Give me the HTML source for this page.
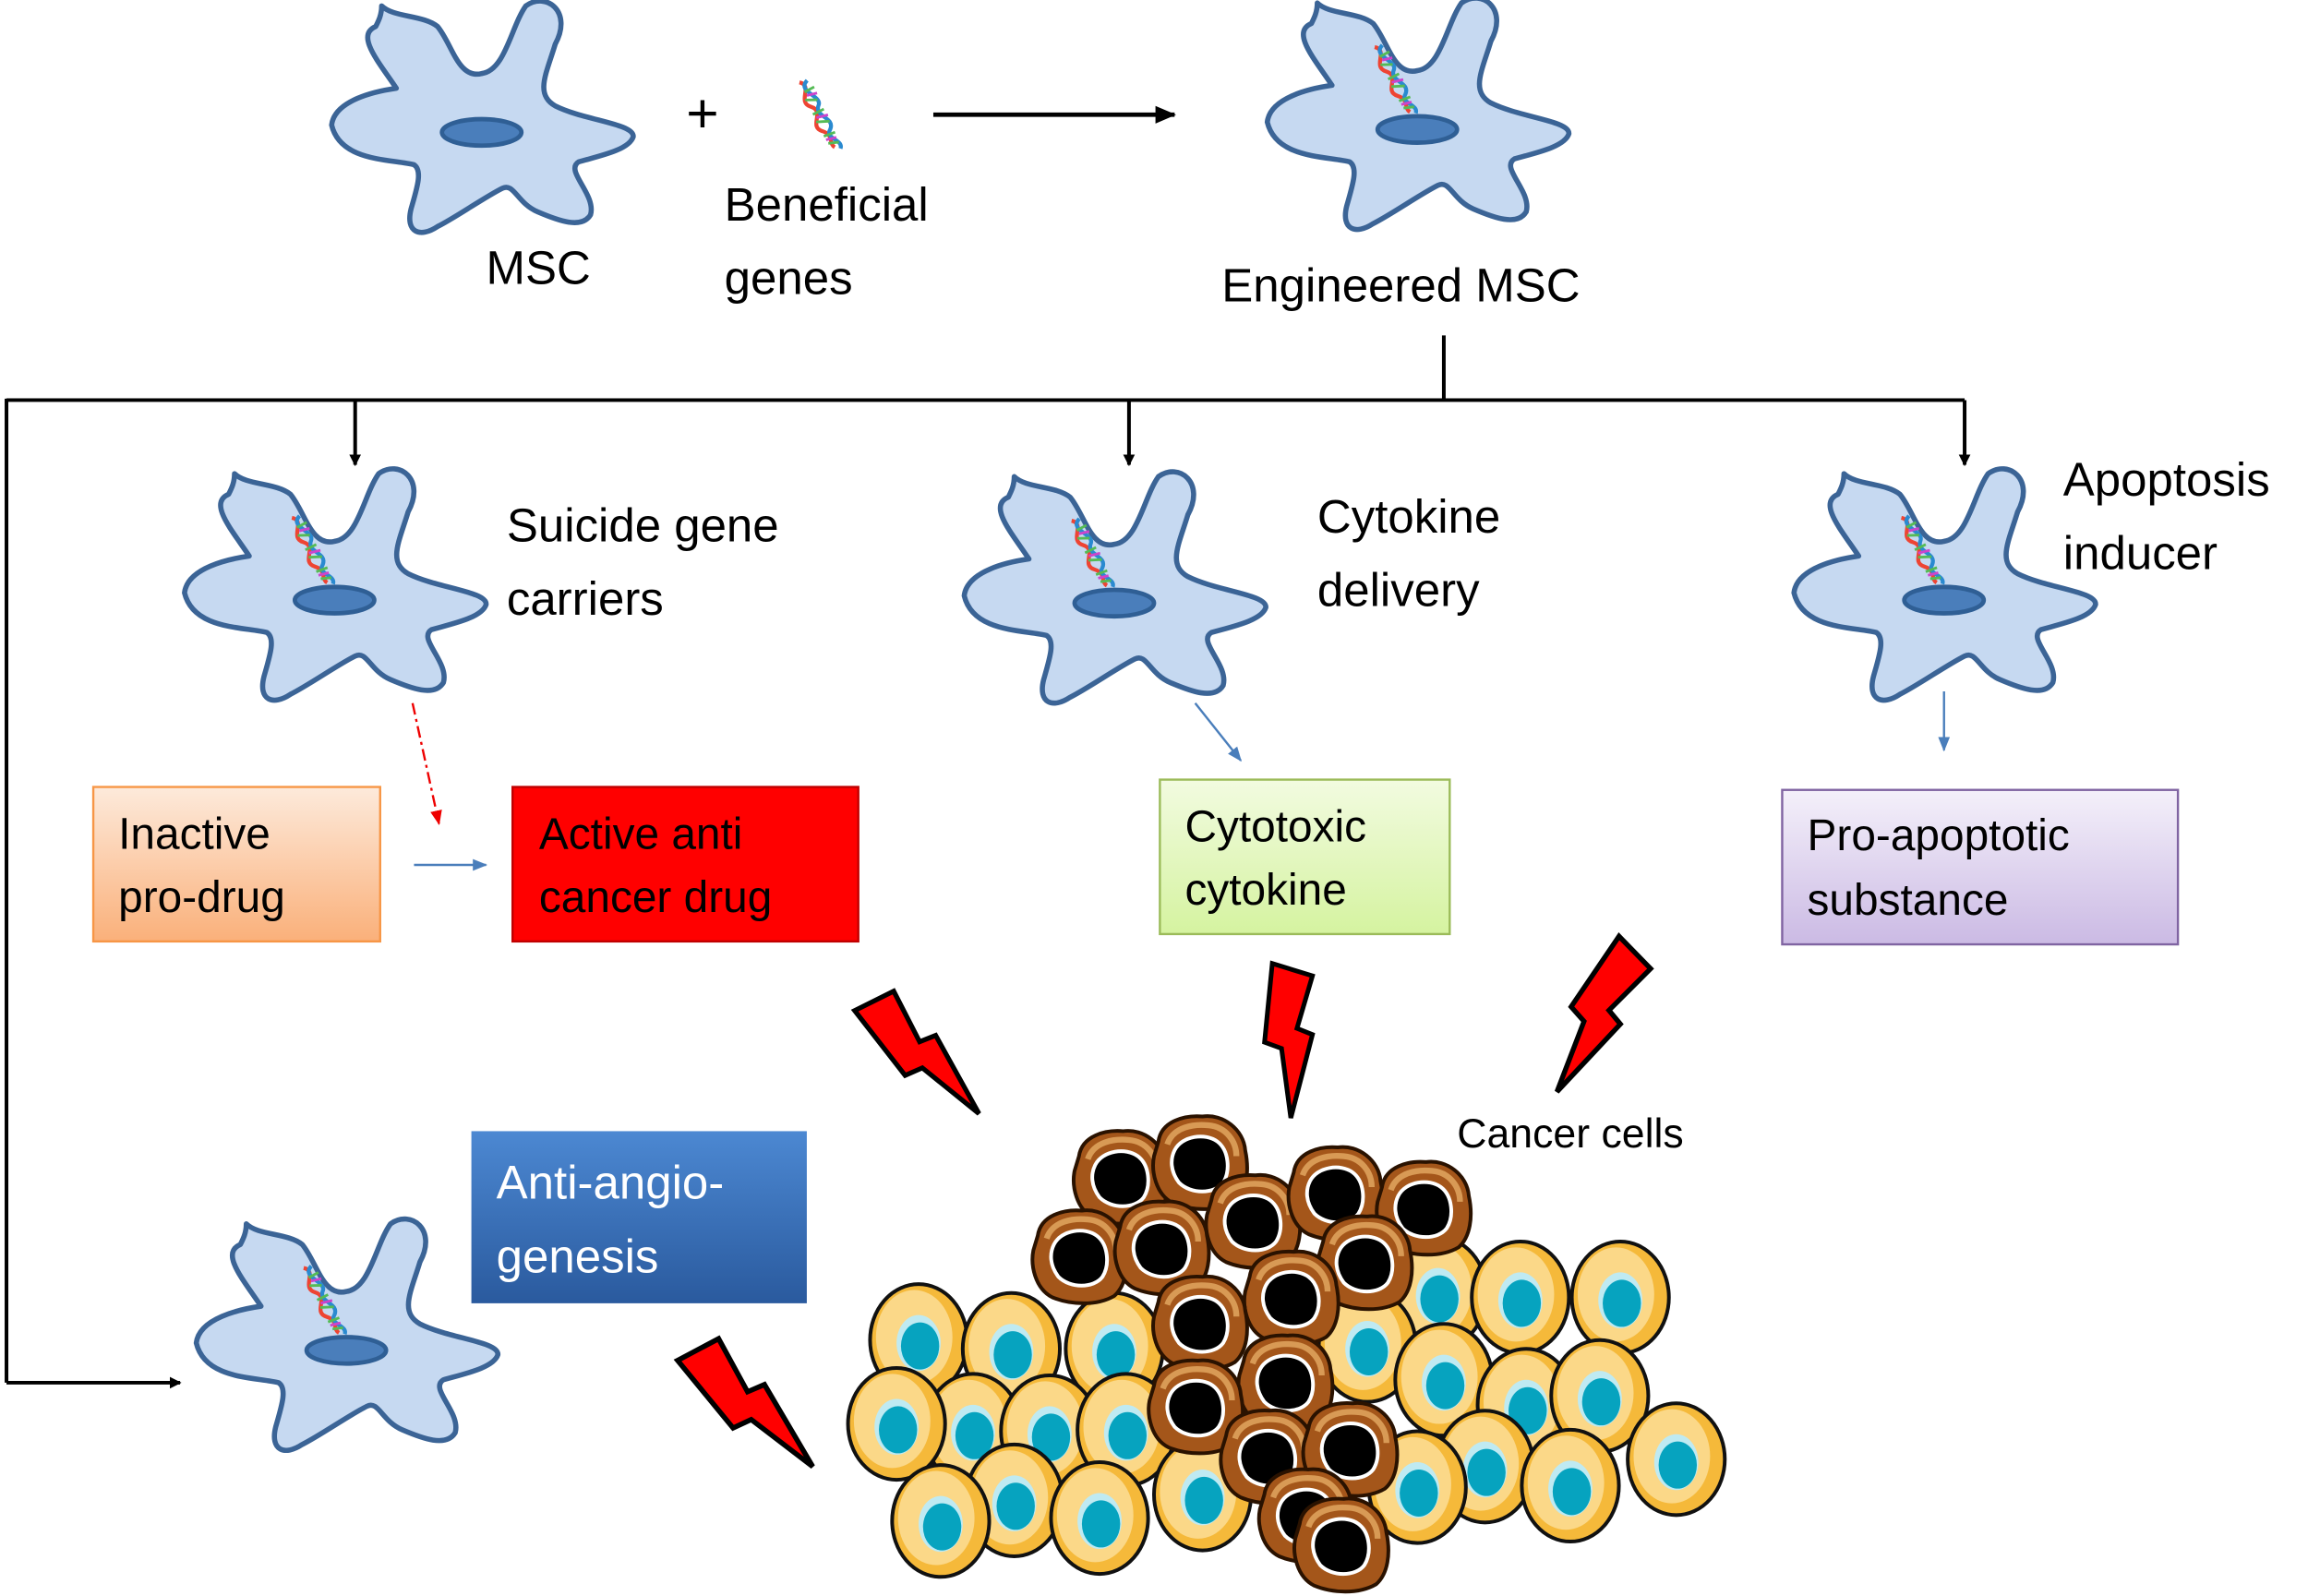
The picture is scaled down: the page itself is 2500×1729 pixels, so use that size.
<!DOCTYPE html>
<html><head><meta charset="utf-8"><style>
html,body{margin:0;padding:0;background:#fff}
svg{display:block}
text{font-family:"Liberation Sans",sans-serif;fill:#000}
</style></head><body>
<svg width="2500" height="1729" viewBox="0 0 1568 1085" xmlns="http://www.w3.org/2000/svg">
<defs>
<marker id="ah" markerWidth="8" markerHeight="8" refX="7" refY="4" orient="auto" markerUnits="userSpaceOnUse"><path d="M0,0 L8,4 L0,8 z" fill="#000"/></marker>
<marker id="ahb" markerWidth="10" markerHeight="10" refX="9" refY="5" orient="auto" markerUnits="userSpaceOnUse"><path d="M0,1 L10,5 L0,9 z" fill="#4a7ebb"/></marker>
<marker id="ahr" markerWidth="10" markerHeight="10" refX="9" refY="5" orient="auto" markerUnits="userSpaceOnUse"><path d="M0,1 L10,5 L0,9 z" fill="#e00"/></marker>
<marker id="ahk" markerWidth="14" markerHeight="12" refX="13" refY="6" orient="auto" markerUnits="userSpaceOnUse"><path d="M0,0 L14,6 L0,12 z" fill="#000"/></marker>
<g id="cell">
<path d="M-102,-5 C-100,-22 -72,-28 -58,-30 C-70,-48 -86,-66 -72,-72 C-70,-76 -68,-80 -68,-86 C-60,-78 -40,-80 -30,-72 C-20,-60 -16,-36 0,-40 C16,-42 20,-72 30,-86 C44,-96 62,-82 50,-60 C44,-40 36,-26 50,-18 C70,-8 104,-6 103,3 C100,12 80,16 66,20 C56,26 78,42 74,56 C68,66 52,60 38,54 C24,48 22,34 14,38 C2,44 -18,58 -30,64 C-42,72 -52,68 -48,52 C-44,38 -40,26 -46,22 C-62,18 -96,20 -102,-5 Z" fill="#c6d9f1" stroke="#3b6496" stroke-width="3.5" stroke-linejoin="round"/>
<ellipse cx="0" cy="0" rx="27" ry="9" fill="#4a7ebb" stroke="#2f5f95" stroke-width="3"/>
</g>
<g id="dnai">
<path d="M0,0 C10,5 -6,14 4,20 C14,26 -2,34 8,40 C16,45 10,50 14,54" fill="none" stroke="#e43" stroke-width="3"/>
<path d="M6,0 C-4,6 14,14 10,20 C4,28 20,32 14,40 C8,46 22,50 18,56" fill="none" stroke="#2a8ad0" stroke-width="3"/>
<path d="M2,8 l8,-2 M1,14 l9,2 M4,26 l9,-2 M5,32 l10,2 M8,44 l9,-1 M10,50 l8,1" stroke="#5b5" stroke-width="2"/>
<path d="M3,11 l8,0 M6,29 l9,0 M9,47 l8,0" stroke="#c4c" stroke-width="2"/>
</g>
<g id="dna"><use href="#dnai" transform="rotate(-14) scale(0.9)"/></g>
<polygon id="bolt" points="-12,0 14,8 4,42 14,46 0,100 -6,55 -17,51" fill="#f00" stroke="#000" stroke-width="3" stroke-linejoin="miter"/>
<g id="yc"><ellipse rx="33" ry="38" fill="#f5b93a" stroke="#111" stroke-width="2.5"/><ellipse cx="-3" cy="-2" rx="26" ry="32" fill="#fbd888"/><ellipse cx="0" cy="2" rx="15" ry="19" fill="#bfeaf2"/><ellipse cx="1" cy="4" rx="13" ry="16" fill="#06a3bf"/></g>
<g id="bc"><path d="M-28,-14 C-26,-28 -10,-32 2,-31 C16,-33 30,-22 31,-8 C34,6 32,20 24,27 C12,34 -6,33 -18,28 C-30,22 -33,6 -31,-4 Z" fill="#a4561a" stroke="#2a1200" stroke-width="2.5"/><path d="M-22,-12 C-18,-24 -4,-26 6,-25 C18,-24 25,-14 25,-4" fill="none" stroke="#d89a55" stroke-width="4"/><path d="M-17,-8 C-12,-18 4,-20 12,-14 C20,-8 21,6 16,14 C10,22 -6,22 -14,14 C-20,6 -20,-2 -17,-8 Z" fill="#000" stroke="#fff" stroke-width="2.5"/></g>
<linearGradient id="gO" x1="0" y1="0" x2="0" y2="1"><stop offset="0" stop-color="#fdeadb"/><stop offset="1" stop-color="#fab07a"/></linearGradient>
<linearGradient id="gG" x1="0" y1="0" x2="0" y2="1"><stop offset="0" stop-color="#f2fbe0"/><stop offset="1" stop-color="#d5f3a0"/></linearGradient>
<linearGradient id="gP" x1="0" y1="0" x2="0" y2="1"><stop offset="0" stop-color="#f4f0fa"/><stop offset="1" stop-color="#cbbae4"/></linearGradient>
<linearGradient id="gB" x1="0" y1="0" x2="0" y2="1"><stop offset="0" stop-color="#4c88d2"/><stop offset="1" stop-color="#2a5a9e"/></linearGradient>
</defs>

<use href="#cell" x="327" y="90"/>
<text x="466" y="90" font-size="38">+</text>
<use href="#dna" x="543" y="56"/>
<line x1="634" y1="78" x2="798" y2="78" stroke="#000" stroke-width="3" marker-end="url(#ahk)"/>
<use href="#cell" x="963" y="88"/>
<use href="#dna" x="934" y="32"/>
<text x="330" y="193" font-size="32">MSC</text>
<text x="492" y="150" font-size="32">Beneficial</text>
<text x="492" y="200" font-size="32">genes</text>
<text x="830" y="205" font-size="32">Engineered MSC</text>

<g stroke="#000" stroke-width="2.5" fill="none">
<line x1="981" y1="228" x2="981" y2="272"/>
<line x1="4" y1="272" x2="1335" y2="272"/>
<line x1="4" y1="271" x2="4" y2="940"/>
<line x1="241" y1="272" x2="241" y2="316" marker-end="url(#ah)"/>
<line x1="767" y1="272" x2="767" y2="316" marker-end="url(#ah)"/>
<line x1="1335" y1="272" x2="1335" y2="316" marker-end="url(#ah)"/>
<line x1="4" y1="940" x2="122" y2="940" marker-end="url(#ah)"/>
</g>

<use href="#cell" x="227" y="408"/><use href="#dna" x="198" y="352"/>
<use href="#cell" x="757" y="410"/><use href="#dna" x="728" y="354"/>
<use href="#cell" x="1321" y="408"/><use href="#dna" x="1292" y="352"/>
<use href="#cell" x="235" y="918"/><use href="#dna" x="206" y="862"/>

<text x="344" y="368" font-size="32">Suicide gene</text>
<text x="344" y="418" font-size="32">carriers</text>
<text x="895" y="362" font-size="32">Cytokine</text>
<text x="895" y="412" font-size="32">delivery</text>
<text x="1402" y="337" font-size="32">Apoptosis</text>
<text x="1402" y="387" font-size="32">inducer</text>

<line x1="280" y1="478" x2="298" y2="560" stroke="#e00" stroke-width="1.5" stroke-dasharray="8,3,2,3" marker-end="url(#ahr)"/>
<line x1="281" y1="588" x2="330" y2="588" stroke="#4a7ebb" stroke-width="1.5" marker-end="url(#ahb)"/>
<line x1="812" y1="478" x2="843" y2="517" stroke="#4a7ebb" stroke-width="1.5" marker-end="url(#ahb)"/>
<line x1="1321" y1="470" x2="1321" y2="510" stroke="#4a7ebb" stroke-width="1.5" marker-end="url(#ahb)"/>

<rect x="63" y="535" width="195" height="105" fill="url(#gO)" stroke="#f79646" stroke-width="1.5"/>
<text x="80" y="577" font-size="30">Inactive</text>
<text x="80" y="620" font-size="30">pro-drug</text>
<rect x="348" y="535" width="235" height="105" fill="#ff0000" stroke="#c00000" stroke-width="1.5"/>
<text x="366" y="577" font-size="30">Active anti</text>
<text x="366" y="620" font-size="30">cancer drug</text>
<rect x="788" y="530" width="197" height="105" fill="url(#gG)" stroke="#9bbb59" stroke-width="1.5"/>
<text x="805" y="572" font-size="30">Cytotoxic</text>
<text x="805" y="615" font-size="30">cytokine</text>
<rect x="1211" y="537" width="269" height="105" fill="url(#gP)" stroke="#8064a2" stroke-width="1.5"/>
<text x="1228" y="578" font-size="30">Pro-apoptotic</text>
<text x="1228" y="622" font-size="30">substance</text>
<rect x="320" y="769" width="228" height="117" fill="url(#gB)"/>
<text x="337" y="815" font-size="32" style="fill:#fff">Anti-angio-</text>
<text x="337" y="865" font-size="32" style="fill:#fff">genesis</text>

<use href="#bolt" transform="translate(590,678) rotate(-43.5) scale(1.09)"/>
<use href="#bolt" transform="translate(877,655) scale(1.05)"/>
<use href="#bolt" transform="translate(1112,643) rotate(28.6) scale(1.13)"/>
<use href="#bolt" transform="translate(470,915) rotate(-45) scale(1.16)"/>

<text x="990" y="780" font-size="28">Cancer cells</text>

<use href="#yc" x="977" y="879"/><use href="#yc" x="1033" y="882"/><use href="#yc" x="1101" y="882"/>
<use href="#yc" x="624" y="911"/><use href="#yc" x="687" y="917"/><use href="#yc" x="757" y="917"/>
<use href="#yc" x="929" y="915"/><use href="#yc" x="981" y="938"/>
<use href="#yc" x="1037" y="955"/><use href="#yc" x="1087" y="949"/>
<use href="#yc" x="661" y="972"/><use href="#yc" x="713" y="973"/><use href="#yc" x="609" y="968"/><use href="#yc" x="765" y="972"/>
<use href="#yc" x="1139" y="992"/><use href="#yc" x="1009" y="997"/><use href="#yc" x="1067" y="1010"/><use href="#yc" x="963" y="1011"/>
<use href="#yc" x="689" y="1020"/><use href="#yc" x="817" y="1016"/><use href="#yc" x="639" y="1034"/><use href="#yc" x="747" y="1032"/>

<use href="#bc" x="761" y="800"/><use href="#bc" x="815" y="790"/><use href="#bc" x="851" y="830"/>
<use href="#bc" x="907" y="811"/><use href="#bc" x="967" y="821"/>
<use href="#bc" x="733" y="854"/><use href="#bc" x="789" y="848"/><use href="#bc" x="927" y="858"/>
<use href="#bc" x="877" y="882"/><use href="#bc" x="815" y="899"/>
<use href="#bc" x="873" y="939"/><use href="#bc" x="812" y="956"/>
<use href="#bc" x="861" y="990"/><use href="#bc" x="917" y="985"/>
<use href="#bc" x="887" y="1030"/><use href="#bc" x="911" y="1050"/>
</svg>
</body></html>
